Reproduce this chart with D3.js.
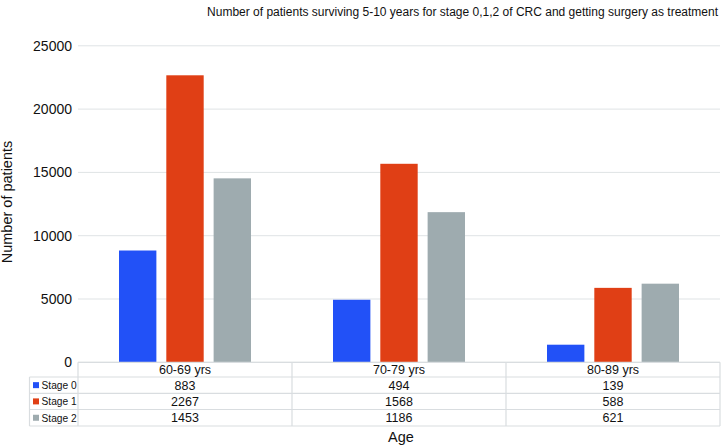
<!DOCTYPE html>
<html><head><meta charset="utf-8">
<script src="https://cdn.jsdelivr.net/npm/d3@7"></script>
<style>body{margin:0;background:#fff}svg{display:block;font-family:"Liberation Sans",Arial,sans-serif}</style>
</head><body><svg id="c" width="723" height="448"></svg>
<script>
const title = "Number of patients surviving 5-10 years for stage 0,1,2 of CRC and getting surgery as treatment";
const categories = ["60-69 yrs", "70-79 yrs", "80-89 yrs"];
const seriesNames = ["Stage 0", "Stage 1", "Stage 2"];
const colors = ["#2251f7", "#e03f15", "#9eabaf"];
// Values shown in the data table
const tableStage0 = [883, 494, 139];
const tableStage1 = [2267, 1568, 588];
const tableStage2 = [1453, 1186, 621];
// Bar heights as drawn in the chart
const barStage0 = [8830, 4940, 1390];
const barStage1 = [22670, 15680, 5880];
const barStage2 = [14530, 11860, 6210];
const yTicks = [0, 5000, 10000, 15000, 20000, 25000];

const tableRows = [tableStage0, tableStage1, tableStage2];
const barRows = [barStage0, barStage1, barStage2];

const svg = d3.select("#c");
const L = 78, R = 720, T = 45.8, B = 362.3;
const x0 = d3.scaleBand().domain(categories).range([L, R]).padding(0);
const gw = x0.bandwidth();
const x1 = d3.scaleBand().domain(seriesNames).range([41, gw - 41]).paddingInner(0.21).paddingOuter(0);
const y = d3.scaleLinear().domain([0, 25000]).range([B, T]);

// gridlines
svg.append("g").selectAll("line").data(yTicks).join("line")
  .attr("x1", L).attr("x2", R).attr("y1", d => y(d)).attr("y2", d => y(d))
  .attr("stroke", "#dfe3e5").attr("stroke-width", 1);

// y axis labels
const ya = svg.append("g").attr("transform", `translate(${L},0)`)
  .call(d3.axisLeft(y).tickValues(yTicks).tickSize(0).tickPadding(6).tickFormat(d3.format("d")));
ya.select(".domain").remove();
ya.selectAll("text").attr("font-size", 14).attr("fill", "#111").attr("font-family", "Liberation Sans, Arial, sans-serif");

// bars
const g = svg.append("g");
categories.forEach((c, ci) => {
  seriesNames.forEach((s, si) => {
    g.append("rect")
      .attr("x", x0(c) + x1(s)).attr("width", x1.bandwidth())
      .attr("y", y(barRows[si][ci])).attr("height", B - y(barRows[si][ci]))
      .attr("fill", colors[si]);
  });
});

// title
svg.append("text").attr("x", 718).attr("y", 16).attr("text-anchor", "end")
  .attr("font-size", 12).attr("fill", "#111").text(title);

// y title
svg.append("text").attr("transform", "translate(12,202) rotate(-90)").attr("text-anchor", "middle")
  .attr("font-size", 14.5).attr("fill", "#111").text("Number of patients");

// table
const rowY = [362.3, 377, 393.3, 409.5, 426];
const lineC = "#d9dde0";
const tg = svg.append("g");
rowY.forEach((yy, i) => {
  tg.append("line").attr("x1", i === 0 ? L : 29.5).attr("x2", R).attr("y1", yy).attr("y2", yy)
    .attr("stroke", lineC).attr("stroke-width", 1.2);
});
const vx = [L, ...categories.map(c => x0(c) + gw)];
vx.forEach(xx => {
  tg.append("line").attr("x1", xx).attr("x2", xx).attr("y1", rowY[0]).attr("y2", rowY[4])
    .attr("stroke", lineC).attr("stroke-width", 1.2);
});
tg.append("line").attr("x1", 29.5).attr("x2", 29.5).attr("y1", rowY[1]).attr("y2", rowY[4])
  .attr("stroke", lineC).attr("stroke-width", 1.2);
categories.forEach(c => {
  tg.append("text").attr("x", x0(c) + gw / 2).attr("y", (rowY[0] + rowY[1]) / 2 + 4.5)
    .attr("text-anchor", "middle").attr("font-size", 12.5).attr("fill", "#111").text(c);
});
seriesNames.forEach((s, si) => {
  const cy = (rowY[si + 1] + rowY[si + 2]) / 2;
  tg.append("rect").attr("x", 33).attr("y", cy - 3).attr("width", 6).attr("height", 6).attr("fill", colors[si]);
  tg.append("text").attr("x", 41.5).attr("y", cy + 4).attr("font-size", 10.2).attr("fill", "#111").text(s);
  categories.forEach((c, ci) => {
    tg.append("text").attr("x", x0(c) + gw / 2).attr("y", cy + 4.5)
      .attr("text-anchor", "middle").attr("font-size", 12.5).attr("fill", "#111")
      .text(tableRows[si][ci]);
  });
});

// x title
svg.append("text").attr("x", (L + R) / 2 + 2).attr("y", 442).attr("text-anchor", "middle")
  .attr("font-size", 14.5).attr("fill", "#111").text("Age");
</script></body></html>
